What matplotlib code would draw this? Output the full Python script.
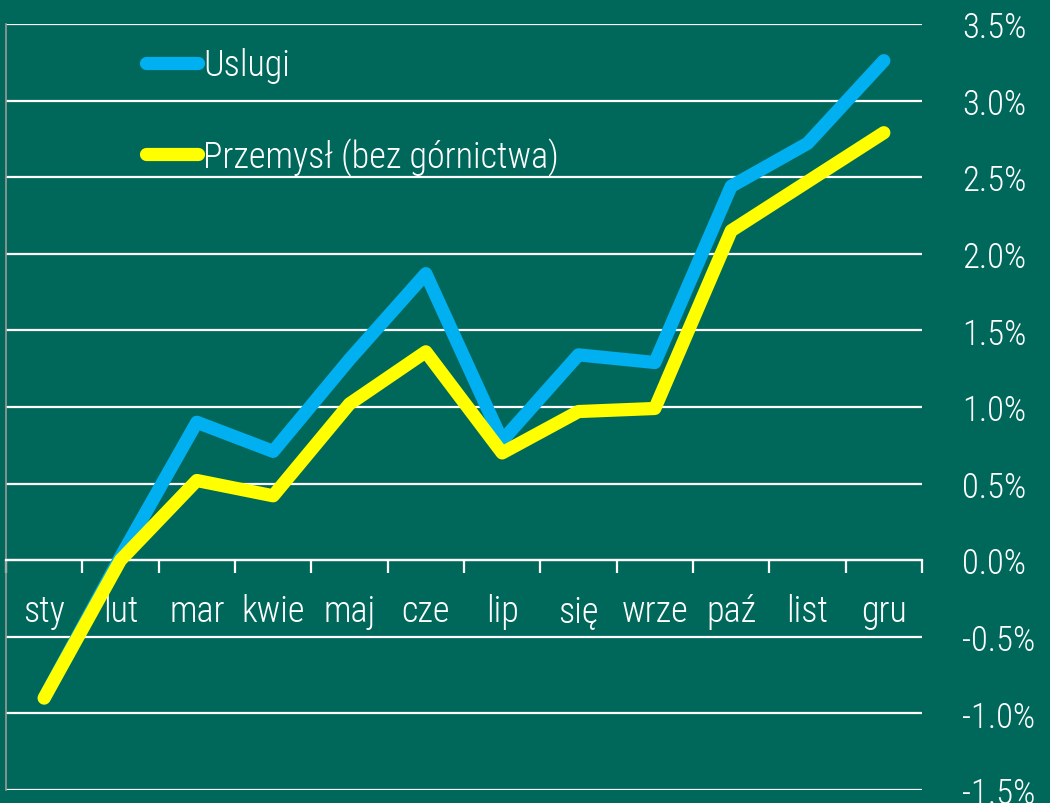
import numpy as np
import matplotlib.pyplot as plt
from matplotlib import font_manager

# Dane: zmiana w % wg miesięcy
miesiace = ['sty', 'lut', 'mar', 'kwie', 'maj', 'cze', 'lip', 'się', 'wrze', 'paź', 'list', 'gru']
uslugi = [-0.90, 0.02, 0.90, 0.71, 1.31, 1.87, 0.78, 1.34, 1.29, 2.44, 2.72, 3.26]
przemysl = [-0.90, 0.00, 0.52, 0.42, 1.02, 1.36, 0.70, 0.97, 0.99, 2.15, 2.47, 2.79]
y_ticks = [-1.5, -1.0, -0.5, 0.0, 0.5, 1.0, 1.5, 2.0, 2.5, 3.0, 3.5]

tlo = '#00685B'

# szukamy cienkiej, wąskiej czcionki
fonty = font_manager.fontManager.ttflist
nazwy = {f.name for f in fonty}
czcionka = 'DejaVu Sans'
waga = 'normal'
for kandydat in ['Roboto Condensed', 'Open Sans Condensed', 'Liberation Sans Narrow',
                 'Roboto', 'Lato', 'Open Sans']:
    if kandydat in nazwy:
        czcionka = kandydat
        lekkie = [f for f in fonty if f.name == kandydat and
                  (f.weight in (200, 300, 'light', 'thin') or 'Light' in f.fname)]
        if lekkie:
            waga = 'light'
        break
plt.rcParams['font.family'] = [czcionka, 'DejaVu Sans']
plt.rcParams['font.weight'] = waga

fig = plt.figure(figsize=(10.5, 8.04), dpi=100, facecolor=tlo)
ax = fig.add_axes([0.0057, 0.0162, 0.8724, 0.9528])
ax.set_facecolor(tlo)

x = np.arange(len(miesiace)) + 0.5

# Linie siatki
for v in y_ticks:
    ax.axhline(v, color='white', lw=1.6, zorder=1)

ax.plot(x, uslugi, color='#00B0F0', lw=9.5, solid_capstyle='round',
        solid_joinstyle='round', label='Uslugi', zorder=3)
ax.plot(x, przemysl, color='#FFFF00', lw=9.5, solid_capstyle='round',
        solid_joinstyle='round', label='Przemysł (bez górnictwa)', zorder=4)

ax.set_xlim(0, len(miesiace))
ax.set_ylim(-1.5, 3.5)

# Osie
for s in ['top', 'right']:
    ax.spines[s].set_visible(False)
ax.spines['left'].set_color('#9a9a9a')
ax.spines['left'].set_linewidth(1.2)
ax.spines['bottom'].set_position(('data', 0))
ax.spines['bottom'].set_color('white')
ax.spines['bottom'].set_linewidth(1.6)

ax.set_xticks(np.arange(len(miesiace) + 1))
ax.set_xticklabels([])
ax.tick_params(axis='x', direction='out', length=9, width=1.6, color='white')
for xi, m in zip(x, miesiace):
    ax.text(xi, -0.335, m, ha='center', va='center', color='white', fontsize=26)

ax.yaxis.tick_right()
ax.set_yticks(y_ticks)
ax.set_yticklabels([f'{v:.1f}%' for v in y_ticks], color='white', fontsize=25)
ax.tick_params(axis='y', length=0, pad=29)
for lab in ax.get_yticklabels():
    lab.set_horizontalalignment('left')

leg = ax.legend(loc='upper left', bbox_to_anchor=(0.117, 1.012), frameon=False,
                fontsize=26, handlelength=1.45, handletextpad=0.15,
                labelspacing=1.5, labelcolor='white')

fig.savefig('out.png', dpi=100, facecolor=tlo)
plt.close(fig)
